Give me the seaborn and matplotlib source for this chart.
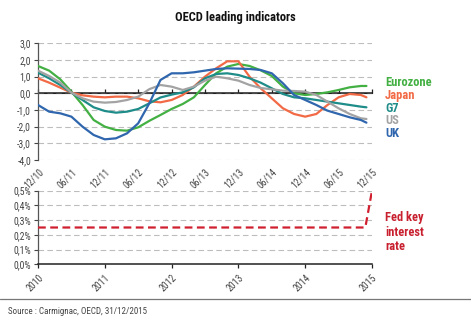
import matplotlib
matplotlib.use("Agg")
import matplotlib.pyplot as plt
from matplotlib import font_manager
from matplotlib.ticker import FuncFormatter
import seaborn as sns
import pandas as pd

# ---------------- data ----------------
months = list(range(0, 59, 2)) + [59]  # months since Dec 2010
eurozone = [1.64, 1.36, 0.84, 0.1, -0.7, -1.6, -2.0, -2.2, -2.24, -2.04, -1.65,
            -1.3, -0.94, -0.64, -0.24, 0.5, 1.2, 1.6, 1.76, 1.64, 1.38,
            1.04, 0.4, 0.0, -0.1, -0.04, 0.06, 0.2, 0.36, 0.44, 0.44]
japan = [0.9, 0.64, 0.34, 0.04, -0.12, -0.2, -0.24, -0.2, -0.2, -0.3, -0.48,
         -0.54, -0.4, -0.1, 0.4, 1.0, 1.5, 1.92, 1.92, 1.0, 0.3,
         -0.3, -0.9, -1.24, -1.4, -1.24, -0.7, -0.24, -0.04, -0.1, -0.24]
g7 = [1.24, 0.9, 0.5, 0.04, -0.4, -0.84, -1.06, -1.16, -1.1, -0.94, -0.6,
      -0.25, -0.08, 0.06, 0.36, 0.9, 1.16, 1.2, 1.1, 0.9, 0.64,
      0.3, -0.04, -0.24, -0.3, -0.4, -0.5, -0.6, -0.7, -0.8, -0.84]
us = [1.36, 1.04, 0.64, 0.04, -0.3, -0.5, -0.56, -0.52, -0.4, -0.2, 0.25,
      0.5, 0.4, 0.2, 0.4, 0.76, 1.0, 0.9, 0.76, 0.5, 0.32,
      0.24, 0.16, 0.14, 0.1, -0.1, -0.5, -0.9, -1.24, -1.5, -1.54]
uk = [-0.7, -1.1, -1.2, -1.4, -2.0, -2.5, -2.76, -2.7, -2.4, -1.8, -0.6,
      0.8, 1.2, 1.2, 1.26, 1.36, 1.46, 1.5, 1.48, 1.46, 1.4,
      1.2, 0.6, -0.1, -0.4, -0.7, -1.04, -1.24, -1.44, -1.6, -1.76]
series_names = ["Eurozone", "Japan", "G7", "US", "UK"]
series_colors = ["#43b043", "#f26a45", "#1e8c88", "#a3a3a3", "#2f66ad"]
top_ticks = list(range(0, 61, 6))
top_ticklabels = ["12/10", "06/11", "12/11", "06/12", "12/12", "06/13",
                  "12/13", "06/14", "12/14", "06/15", "12/15"]

fed_x = [2010.0, 2014.9, 2015.0]
fed_rate = [0.25, 0.25, 0.5]
years = [2010, 2011, 2012, 2013, 2014, 2015]

# ---------------- fonts ----------------
sns.set_style("white")
names = {f.name for f in font_manager.fontManager.ttflist}
cond = None
for cand in ["Liberation Sans Narrow", "DejaVu Sans Condensed", "Roboto Condensed", "Open Sans Condensed"]:
    if cand in names:
        cond = cand
        break
fam = [cond, "DejaVu Sans"] if cond else ["DejaVu Sans"]
plt.rcParams["font.family"] = fam
if not cond:
    plt.rcParams["font.stretch"] = "condensed"

fig = plt.figure(figsize=(4.71, 3.25), dpi=100)
W, H = 471, 325

def rect(x0, y0, x1, y1):
    return [x0 / W, 1 - y1 / H, (x1 - x0) / W, (y1 - y0) / H]

ax1 = fig.add_axes(rect(38, 43.3, 372, 160))
ax2 = fig.add_axes(rect(38, 190.7, 372, 264.3))

grid_kw = dict(color="#bdbdbd", linestyle=(0, (5, 3)), linewidth=0.8)
tick_col = "#444444"

# ---------------- top chart ----------------
df = pd.DataFrame({
    "month": months * 5,
    "value": eurozone + japan + g7 + us + uk,
    "series": sum([[n] * len(months) for n in series_names], []),
})
sns.lineplot(data=df, x="month", y="value", hue="series", hue_order=series_names,
             palette=series_colors, linewidth=1.6, legend=False, ax=ax1, zorder=3)
ax1.set_xlim(0, 60)
ax1.set_ylim(-4, 3)
ax1.set_yticks(range(-4, 4))
ax1.yaxis.set_major_formatter(FuncFormatter(lambda v, p: f"{v:.1f}".replace(".", ",")))
ax1.yaxis.grid(True, **grid_kw)
ax1.set_axisbelow(True)
for s in ["top", "right", "bottom"]:
    ax1.spines[s].set_visible(False)
ax1.spines["left"].set_color("#555555")
ax1.spines["left"].set_linewidth(0.9)
ax1.set_xticks(top_ticks)
ax1.set_xticklabels(top_ticklabels, rotation=45, ha="right", rotation_mode="anchor")
ax1.tick_params(axis="x", length=0, pad=5, labelsize=7, colors=tick_col)
ax1.tick_params(axis="y", length=3, width=0.8, direction="out", labelsize=7,
                colors=tick_col, left=True, pad=2)
ax1.set_xlabel("")
ax1.set_ylabel("")
ax1.axhline(0, color="#222222", linewidth=1.1, zorder=2)
sec = ax1.secondary_xaxis(4 / 7)
sec.set_xticks(top_ticks)
sec.set_xticklabels([])
sec.tick_params(axis="x", length=3, width=0.9, direction="out", colors="#222222")
sec.spines["bottom"].set_color("#222222")
sec.spines["bottom"].set_linewidth(1.1)

label_y = [82.3, 95.7, 108.3, 120.7, 133.3]
for n, c, y in zip(series_names, series_colors, label_y):
    fig.text(385 / W, 1 - y / H, n, color=c, fontsize=9, fontweight="bold",
             ha="left", va="center")

# ---------------- bottom chart ----------------
fed_df = pd.DataFrame({"year": fed_x, "rate": fed_rate})
sns.lineplot(data=fed_df, x="year", y="rate", color="#d0202f", linewidth=1.6,
             linestyle=(0, (3.5, 2)), ax=ax2, zorder=3)
ax2.set_xlim(2010, 2015)
ax2.set_ylim(0, 0.5)
ax2.set_yticks([0, 0.1, 0.2, 0.3, 0.4, 0.5])
ax2.yaxis.set_major_formatter(FuncFormatter(lambda v, p: f"{v:.1f}%".replace(".", ",")))
ax2.yaxis.grid(True, **grid_kw)
ax2.set_axisbelow(True)
for s in ["top", "right"]:
    ax2.spines[s].set_visible(False)
ax2.spines["left"].set_color("#555555")
ax2.spines["left"].set_linewidth(0.9)
ax2.spines["bottom"].set_color("#222222")
ax2.spines["bottom"].set_linewidth(1.1)
ax2.set_xticks(years)
ax2.set_xticklabels([str(y) for y in years], rotation=45, ha="right", rotation_mode="anchor")
ax2.tick_params(axis="x", length=3, width=0.9, direction="out", labelsize=7,
                colors=tick_col, bottom=True, pad=3)
ax2.tick_params(axis="x", color="#222222")
ax2.tick_params(axis="y", length=3, width=0.8, direction="out", labelsize=7,
                colors=tick_col, left=True, pad=2)
ax2.set_xlabel("")
ax2.set_ylabel("")
fig.text(385 / W, 1 - 211.5 / H, "Fed key\ninterest\nrate", color="#c8202f",
         fontsize=9, fontweight="bold", ha="left", va="top", linespacing=1.15)

# ---------------- title & source ----------------
fig.text(235 / W, 1 - 17 / H, "OECD leading indicators", ha="center", va="center",
         fontsize=9, fontweight="bold", color="#111111")
fig.add_artist(plt.Line2D([0, 1], [1 - 299 / H, 1 - 299 / H], color="#777777",
                          linewidth=0.9, transform=fig.transFigure))
fig.text(8 / W, 1 - 311 / H, "Source : Carmignac, OECD, 31/12/2015", ha="left",
         va="center", fontsize=6.5, color="#444444")

fig.savefig("out.png", dpi=100)
